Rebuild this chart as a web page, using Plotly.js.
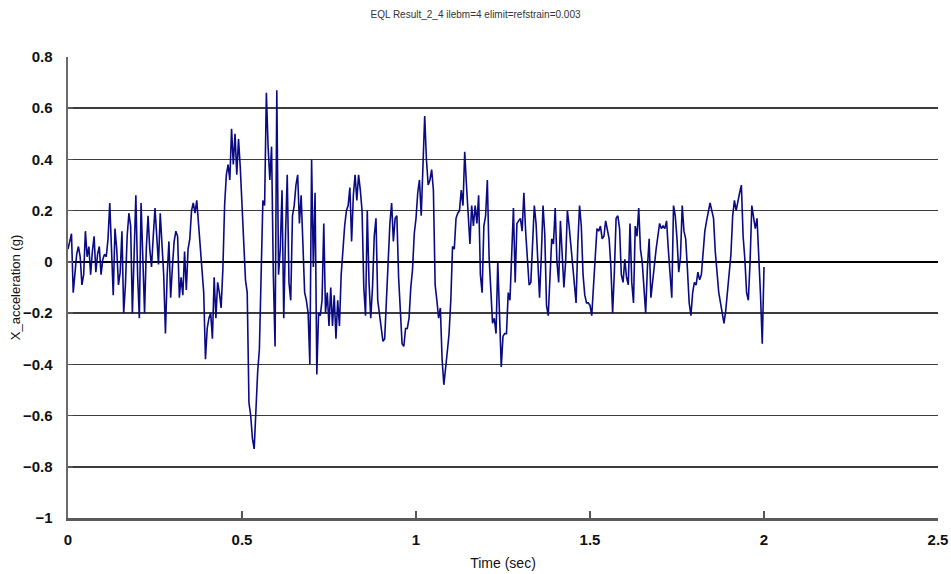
<!DOCTYPE html>
<html>
<head>
<meta charset="utf-8">
<script src="https://cdn.plot.ly/plotly-3.0.1.min.js"></script>
<style>html,body{margin:0;padding:0;background:#fff;}#chart{width:951px;height:574px;}</style>
</head>
<body>
<div id="chart"></div>
<script>
const chartTitle = "EQL Result_2_4 ilebm=4 elimit=refstrain=0.003";
const xTitle = "Time (sec)";
const yTitle = "X_acceleration (g)";
const startTime = 0;
const timeStep = 0.005;
const xTicks = [0, 0.5, 1, 1.5, 2, 2.5];
const xTickText = ["0", "0.5", "1", "1.5", "2", "2.5"];
const yTicks = [-1, -0.8, -0.6, -0.4, -0.2, 0, 0.2, 0.4, 0.6, 0.8];
const yTickText = ["\u22121", "\u22120.8", "\u22120.6", "\u22120.4", "\u22120.2", "0", "0.2", "0.4", "0.6", "0.8"];

const accel = [
  0.05, 0.08, 0.11, -0.12, -0.03, 0.03, 0.06, 0.02, -0.09, -0.05,
  0.12, 0.02, 0.06, -0.05, 0.04, 0.10, -0.04, 0.03, 0.06, -0.05,
  0.01, 0.03, 0.02, 0.09, 0.23, 0.05, -0.13, 0.13, 0.05, -0.09,
  -0.04, 0.12, -0.20, -0.09, 0.10, 0.19, 0.14, -0.20, 0.05, 0.26,
  -0.05, -0.22, 0.23, 0.00, -0.20, 0.05, 0.18, 0.05, -0.02, 0.10,
  0.21, 0.10, -0.01, 0.19, 0.05, -0.05, -0.28, -0.05, 0.08, -0.14,
  -0.02, 0.08, 0.12, 0.10, -0.14, -0.06, -0.13, 0.04, -0.11, 0.05,
  0.09, 0.20, 0.23, 0.19, 0.24, 0.15, 0.08, 0.00, -0.12, -0.38,
  -0.26, -0.22, -0.20, -0.30, -0.06, -0.22, -0.08, -0.12, -0.18, -0.03,
  0.22, 0.34, 0.38, 0.32, 0.52, 0.38, 0.50, 0.34, 0.48, 0.37,
  0.22, 0.10, -0.07, -0.12, -0.55, -0.60, -0.69, -0.73, -0.55, -0.43,
  -0.34, 0.00, 0.24, 0.22, 0.66, 0.45, 0.32, 0.45, -0.05, -0.33,
  0.67, -0.05, 0.05, 0.28, -0.22, 0.10, 0.34, -0.08, -0.15, 0.18,
  0.22, 0.30, 0.34, 0.15, 0.26, 0.07, -0.12, -0.15, -0.20, -0.40,
  0.40, -0.02, 0.27, -0.44, -0.20, -0.21, -0.15, 0.15, -0.20, -0.12,
  -0.25, -0.10, -0.25, -0.13, -0.30, -0.15, -0.25, -0.05, 0.06, 0.14,
  0.20, 0.22, 0.29, 0.08, 0.26, 0.34, 0.24, 0.34, 0.28, 0.20,
  -0.10, -0.21, 0.20, -0.08, -0.22, -0.10, 0.10, 0.17, -0.15, -0.20,
  -0.25, -0.31, -0.30, -0.16, 0.02, 0.15, 0.23, 0.08, 0.17, 0.18,
  -0.06, -0.19, -0.32, -0.33, -0.26, -0.26, -0.22, -0.10, -0.03, 0.11,
  0.17, 0.27, 0.32, 0.18, 0.40, 0.57, 0.40, 0.30, 0.32, 0.36,
  0.28, -0.09, -0.15, -0.22, -0.18, -0.38, -0.48, -0.40, -0.35, -0.28,
  -0.15, 0.06, 0.05, 0.17, 0.19, 0.20, 0.28, 0.22, 0.43, 0.30,
  0.18, 0.07, 0.22, 0.14, 0.22, 0.15, 0.26, -0.05, -0.12, 0.14,
  0.18, 0.32, 0.02, -0.13, -0.24, -0.22, -0.28, 0.00, -0.25, -0.41,
  -0.29, -0.28, -0.28, -0.12, -0.15, 0.05, 0.21, -0.08, 0.15, 0.16,
  0.17, 0.12, 0.27, 0.12, 0.00, -0.09, -0.08, 0.10, 0.22, 0.15,
  -0.02, -0.14, 0.02, 0.22, 0.11, -0.17, -0.21, -0.08, 0.09, 0.07,
  0.21, 0.00, -0.08, 0.16, 0.03, -0.10, 0.00, 0.20, 0.14, 0.07,
  -0.01, -0.10, -0.16, 0.07, 0.22, 0.14, -0.05, -0.13, -0.16, -0.16,
  -0.17, -0.21, -0.10, 0.02, 0.13, 0.12, 0.14, 0.09, 0.10, 0.16,
  0.13, 0.09, -0.02, -0.20, -0.04, 0.17, 0.18, 0.13, -0.05, -0.08,
  0.01, -0.06, -0.09, 0.15, -0.08, -0.16, 0.14, 0.10, 0.21, 0.05,
  0.00, -0.10, -0.20, -0.02, 0.09, -0.14, -0.07, -0.02, 0.05, 0.10,
  0.15, 0.13, 0.14, 0.13, 0.16, 0.05, -0.05, -0.14, 0.22, 0.18,
  0.09, -0.04, 0.02, 0.22, 0.12, 0.09, -0.03, -0.16, -0.21, -0.12,
  -0.08, -0.09, -0.04, -0.07, -0.05, 0.05, 0.12, 0.16, 0.19, 0.23,
  0.20, 0.17, 0.04, -0.05, -0.12, -0.16, -0.21, -0.24, -0.19, -0.12,
  -0.05, 0.03, 0.18, 0.24, 0.20, 0.24, 0.27, 0.30, 0.10, 0.01,
  -0.12, -0.15, 0.00, 0.22, 0.18, 0.13, 0.17, 0.04, -0.13, -0.32, -0.02
];

const trace = {
  type: "scatter",
  mode: "lines",
  x0: startTime,
  dx: timeStep,
  y: accel,
  line: {color: "#0a0a84", width: 1.6},
  hoverinfo: "skip"
};

const layout = {
  width: 951,
  height: 574,
  margin: {l: 68, r: 13, t: 57, b: 56},
  paper_bgcolor: "#ffffff",
  plot_bgcolor: "#ffffff",
  showlegend: false,
  title: {
    text: chartTitle,
    x: 0.5, xanchor: "center",
    y: 0.975, yanchor: "middle",
    font: {family: "Liberation Sans, Arial, sans-serif", size: 10, color: "#333333"}
  },
  xaxis: {
    range: [0, 2.5],
    tickmode: "array",
    tickvals: xTicks,
    ticktext: xTickText,
    showgrid: false,
    zeroline: false,
    showline: true,
    linecolor: "#5a5a5a",
    linewidth: 3,
    ticks: "inside",
    ticklen: 7,
    tickwidth: 1.5,
    tickcolor: "#555555",
    ticklabelstandoff: 6,
    tickfont: {family: "Liberation Sans, Arial, sans-serif", size: 15, color: "#111111", weight: "bold"},
    title: {
      text: xTitle,
      standoff: 12,
      font: {family: "Liberation Sans, Arial, sans-serif", size: 14, color: "#111111"}
    }
  },
  yaxis: {
    range: [-1, 0.8],
    tickmode: "array",
    tickvals: yTicks,
    ticktext: yTickText,
    showgrid: true,
    gridcolor: "#3c3c3c",
    gridwidth: 1.5,
    zeroline: true,
    zerolinecolor: "#000000",
    zerolinewidth: 2.5,
    showline: true,
    linecolor: "#6a6a6a",
    linewidth: 2.5,
    ticks: "inside",
    ticklen: 5,
    tickwidth: 1.5,
    tickcolor: "#555555",
    ticklabelstandoff: 10,
    tickfont: {family: "Liberation Sans, Arial, sans-serif", size: 15, color: "#111111", weight: "bold"},
    title: {
      text: yTitle,
      standoff: 0,
      font: {family: "Liberation Sans, Arial, sans-serif", size: 13, color: "#111111"}
    }
  }
};

Plotly.newPlot("chart", [trace], layout, {displayModeBar: false, staticPlot: true});
</script>
</body>
</html>
